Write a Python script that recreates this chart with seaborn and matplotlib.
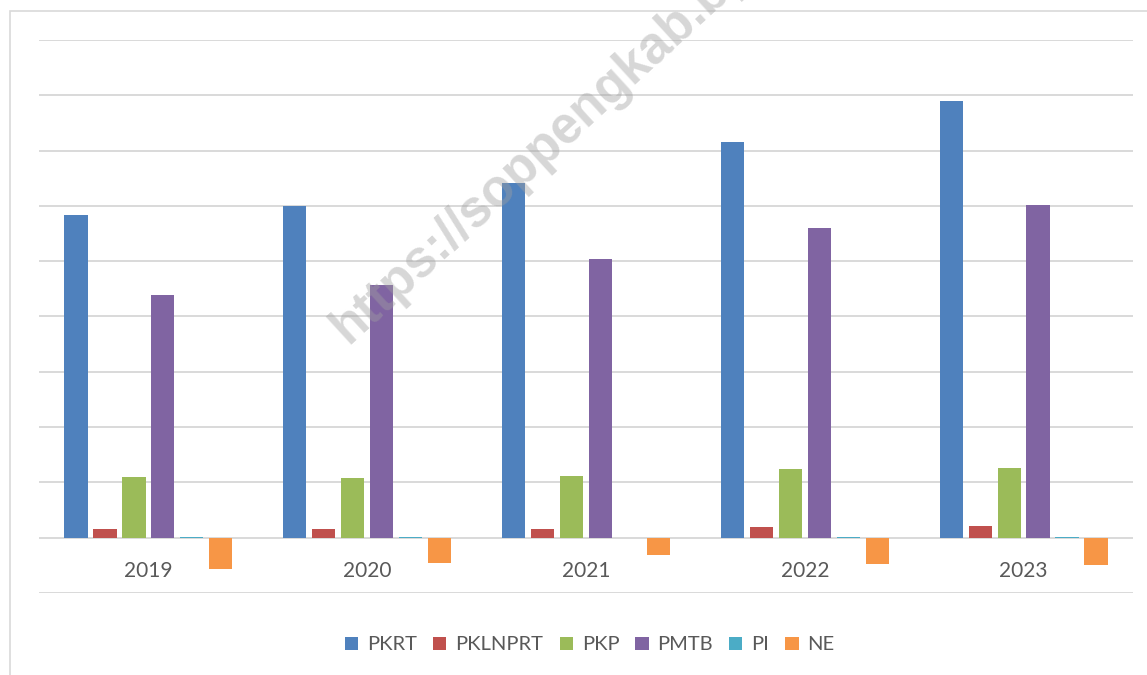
import matplotlib
matplotlib.use("Agg")
import matplotlib.pyplot as plt
from matplotlib.patches import Patch, Rectangle
import seaborn as sns
import pandas as pd
import numpy as np

years = ["2019", "2020", "2021", "2022", "2023"]
series = ["PKRT", "PKLNPRT", "PKP", "PMTB", "PI", "NE"]
pkrt = [5.83, 5.99, 6.41, 7.15, 7.89]
pklnprt = [0.15, 0.15, 0.15, 0.19, 0.21]
pkp = [1.09, 1.08, 1.11, 1.24, 1.26]
pmtb = [4.38, 4.57, 5.04, 5.60, 6.01]
pi = [0.01, 0.02, 0.003, 0.02, 0.005]
ne = [-0.57, -0.46, -0.32, -0.48, -0.50]
colors = ["#4F81BD", "#C0504D", "#9BBB59", "#8064A2", "#4BACC6", "#F79646"]

values = {"PKRT": pkrt, "PKLNPRT": pklnprt, "PKP": pkp, "PMTB": pmtb, "PI": pi, "NE": ne}
rows = []
for s in series:
    for y, v in zip(years, values[s]):
        rows.append({"Tahun": y, "Seri": s, "Nilai": v})
df = pd.DataFrame(rows)

sns.set_theme(style="white")
plt.rcParams["font.family"] = ["Lato", "DejaVu Sans"]

W, H = 1147, 675
fig = plt.figure(figsize=(W / 100, H / 100), dpi=100)
ax = fig.add_axes([39 / W, 1 - 593 / H, (1133 - 39) / W, (593 - 40) / H])

sns.barplot(data=df, x="Tahun", y="Nilai", hue="Seri", hue_order=series,
            order=years, palette=colors, width=0.795, gap=0.2, ax=ax,
            legend=False, edgecolor="none", linewidth=0, saturation=1)

ax.set_ylim(-1, 9)
ax.set_xlim(-0.5, 4.5)
ax.set_yticks(np.arange(-1, 10, 1))
ax.set_yticklabels([])
ax.tick_params(axis="y", length=0)
ax.yaxis.grid(True, color="#D9D9D9", linewidth=1.4)
ax.set_axisbelow(True)
for sp in ["top", "right", "left"]:
    ax.spines[sp].set_visible(False)
ax.spines["bottom"].set_position(("data", 0))
ax.spines["bottom"].set_visible(False)
ax.tick_params(axis="x", length=0, pad=17, labelsize=15, labelcolor="#595959")
ax.set_xlabel("")
ax.set_ylabel("")

handles = [Patch(facecolor=c, edgecolor="none", label=s) for c, s in zip(colors, series)]
fig.legend(handles=handles, loc="center", bbox_to_anchor=(590 / W, 1 - 645 / H),
           ncol=6, frameon=False, fontsize=14.5, handlelength=0.65, handleheight=0.65,
           handletextpad=0.45, columnspacing=0.8, labelcolor="#595959")

# chart area outline
fig.patches.append(Rectangle((9.5 / W, -0.1), 1.2, 1 - 11 / H + 0.1,
                             transform=fig.transFigure, fill=False,
                             edgecolor="#D9D9D9", linewidth=1.2))

# watermark
fig.text(348 / W, 1 - 345 / H, "https://soppengkab.bps.go.id", rotation=42.5,
         rotation_mode="anchor", ha="left", va="baseline", fontsize=37,
         fontweight="bold", color="#a0a0a0", alpha=0.42,
         family=["Liberation Sans", "DejaVu Sans"], zorder=10)

fig.savefig("out.png", dpi=100)
